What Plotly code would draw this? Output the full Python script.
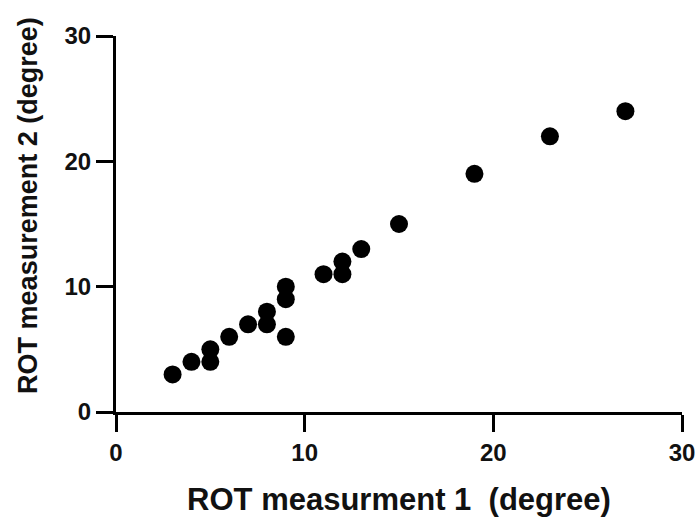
import plotly.graph_objects as go

x_vals = [3, 4, 5, 5, 6, 7, 8, 8, 9, 9, 9, 11, 12, 12, 13, 15, 19, 23, 27]
y_vals = [3, 4, 5, 4, 6, 7, 8, 7, 10, 9, 6, 11, 12, 11, 13, 15, 19, 22, 24]
tick_vals = [0, 10, 20, 30]

fig = go.Figure(go.Scatter(
    x=x_vals, y=y_vals, mode="markers",
    marker=dict(size=18, color="black", line=dict(width=0)),
))

axis_common = dict(
    range=[0, 30], tickvals=tick_vals, showgrid=False, zeroline=False,
    showline=True, linecolor="black", linewidth=3,
    ticks="outside", ticklen=17, tickwidth=3, tickcolor="black",
    tickfont=dict(family="Liberation Sans", size=24, color="#111", weight="bold"),
    automargin=False,
)

fig.update_layout(
    width=699, height=524,
    margin=dict(l=116, r=17, t=36, b=112, autoexpand=False),
    plot_bgcolor="white", paper_bgcolor="white",
    showlegend=False,
    xaxis=dict(**axis_common,
               title=dict(text="ROT measurment 1  (degree)",
                          font=dict(family="Liberation Sans", size=31, color="#111", weight="bold"),
                          standoff=24)),
    yaxis=dict(**axis_common),
    annotations=[dict(
        text="ROT measurement 2 (degree)", textangle=-90,
        xref="paper", yref="paper", x=-0.156, y=0.55,
        xanchor="center", yanchor="middle", showarrow=False,
        font=dict(family="Liberation Sans", size=27, color="#111", weight="bold"),
    )],
)
fig.update_traces(cliponaxis=False)

fig.write_html("out.html")
